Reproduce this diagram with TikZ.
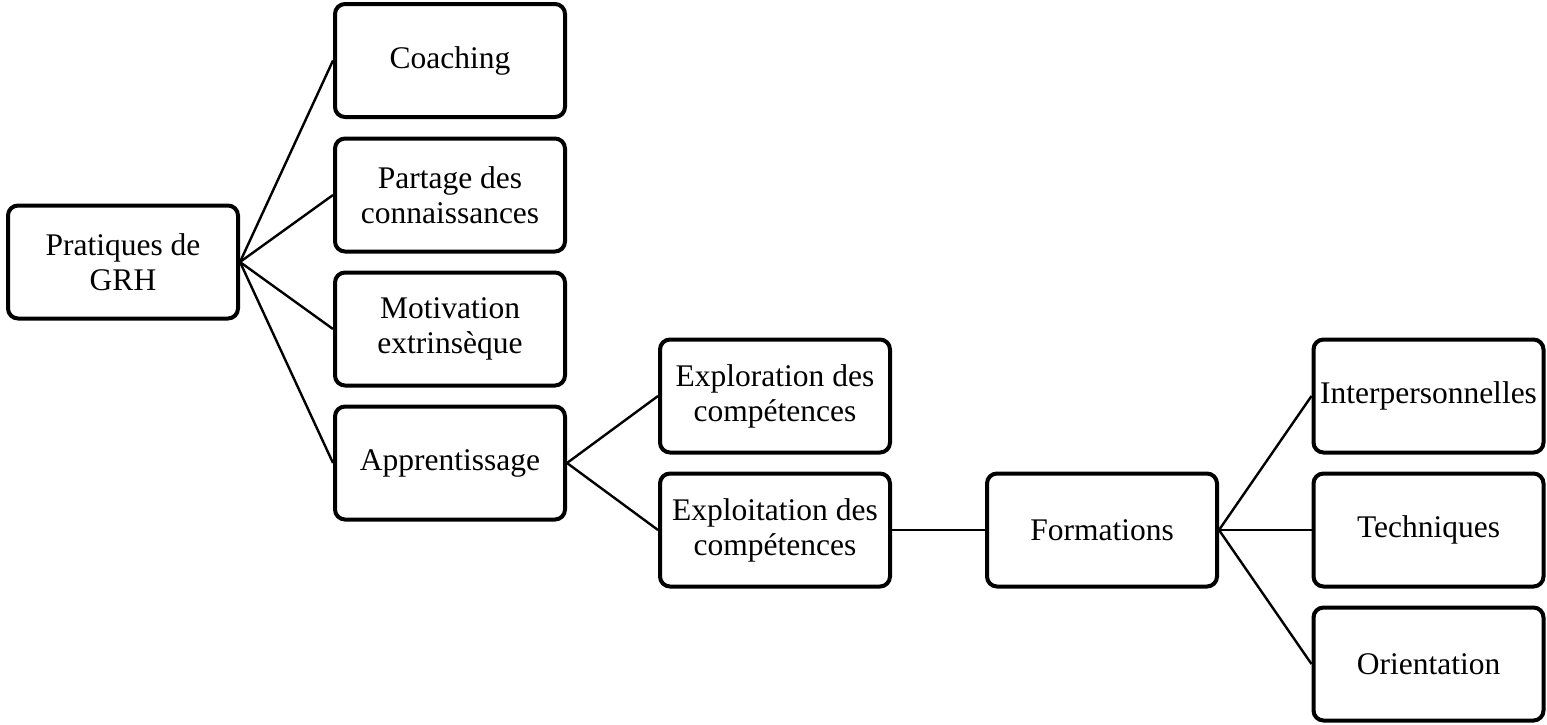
\documentclass[tikz,border=0pt]{standalone}
\usepackage{fontspec}
\setmainfont{Liberation Serif}
\begin{document}
\begin{tikzpicture}[x=1pt,y=-1pt,
  box/.style={draw=black,line width=4pt,rounded corners=10pt,fill=white,
    minimum width=230pt,minimum height=113pt,inner sep=2pt,align=center,
    font=\fontsize{31.5}{35}\selectfont},
  link/.style={draw=black,line width=2.4pt}]
\useasboundingbox (0,0) rectangle (1547,724);
\node[box] (grh) at (123,262) {Pratiques de\\GRH};
\node[box] (coach) at (450,60.5) {Coaching};
\node[box] (part) at (450,195) {Partage des\\connaissances};
\node[box] (motiv) at (450,329) {Motivation\\extrinsèque};
\node[box] (appr) at (450,463) {Apprentissage};
\node[box] (explor) at (775,396) {Exploration des\\compétences};
\node[box] (exploit) at (775,530) {Exploitation des\\compétences};
\node[box] (form) at (1102,530) {Formations};
\node[box] (inter) at (1428.5,396) {Interpersonnelles};
\node[box] (tech) at (1428.5,530) {Techniques};
\node[box] (orient) at (1428.5,664) {Orientation};
\draw[link] (grh.east) -- (coach.west);
\draw[link] (grh.east) -- (part.west);
\draw[link] (grh.east) -- (motiv.west);
\draw[link] (grh.east) -- (appr.west);
\draw[link] (appr.east) -- (explor.west);
\draw[link] (appr.east) -- (exploit.west);
\draw[link] (exploit.east) -- (form.west);
\draw[link] (form.east) -- (inter.west);
\draw[link] (form.east) -- (tech.west);
\draw[link] (form.east) -- (orient.west);
\end{tikzpicture}
\end{document}
